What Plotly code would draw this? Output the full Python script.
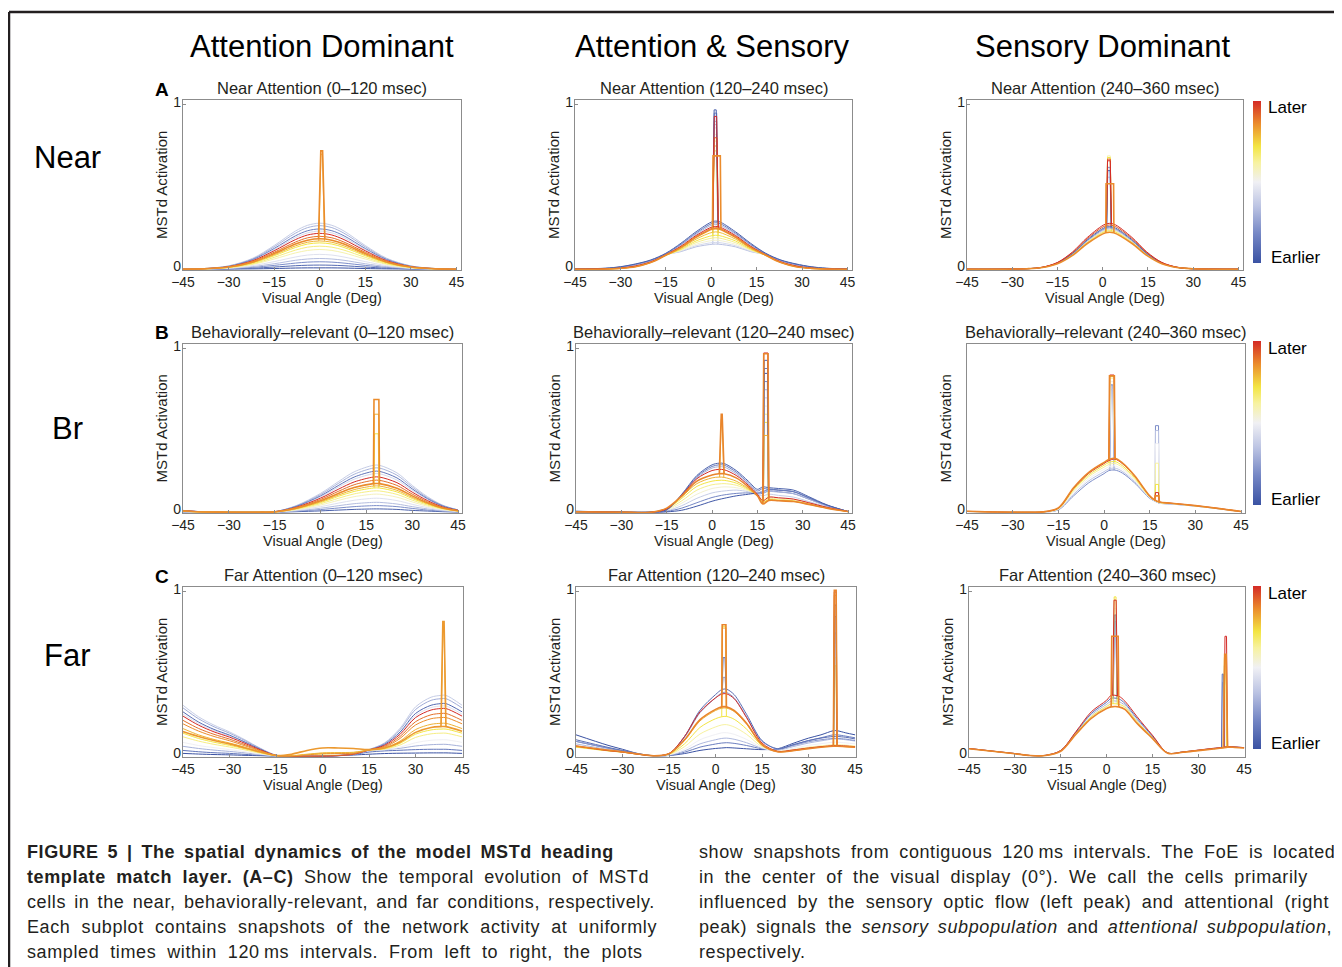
import plotly.graph_objects as go
from plotly.colors import sample_colorscale

# The page body has an 8px margin, so the figure is drawn 8px smaller and all
# reference pixel positions are shifted by that margin.
PAGE_W, PAGE_H = 1342, 967
BODY_MARGIN = 8
W, H = PAGE_W - BODY_MARGIN, PAGE_H - BODY_MARGIN
FONT = "Liberation Sans"
INK = "#231f20"

# ---------------- colour scale (Earlier -> Later) ----------------
COLORSCALE = [[0.0, "#3a52a3"], [0.18, "#7587c5"], [0.35, "#bcc4e3"], [0.5, "#f0f0f4"],
              [0.62, "#f7f2a0"], [0.72, "#f3e543"], [0.86, "#eb8c2c"], [1.0, "#d42a26"]]

# ---------------- text ----------------
COLUMN_HEADERS = ["Attention Dominant", "Attention & Sensory", "Sensory Dominant"]
ROW_LABELS = ["Near", "Br", "Far"]
PANEL_LETTERS = ["A", "B", "C"]
PANEL_TITLES = [
    ["Near Attention (0–120 msec)", "Near Attention (120–240 msec)", "Near Attention (240–360 msec)"],
    ["Behaviorally–relevant (0–120 msec)", "Behaviorally–relevant (120–240 msec)", "Behaviorally–relevant (240–360 msec)"],
    ["Far Attention (0–120 msec)", "Far Attention (120–240 msec)", "Far Attention (240–360 msec)"],
]
X_TICKS = [-45, -30, -15, 0, 15, 30, 45]
X_TITLE = "Visual Angle (Deg)"
Y_TITLE = "MSTd Activation"
# caption: list of (text, style) segments per line; style "b" bold, "i" italic, "" regular
CAPTION_LEFT = [
    [("FIGURE 5 | The spatial dynamics of the model MSTd heading", "b")],
    [("template match layer. (A–C)", "b"), (" Show the temporal evolution of MSTd", "")],
    [("cells in the near, behaviorally-relevant, and far conditions, respectively.", "")],
    [("Each subplot contains snapshots of the network activity at uniformly", "")],
    [("sampled times within 120\u2009ms intervals. From left to right, the plots", "")],
]
CAPTION_RIGHT = [
    [("show snapshots from contiguous 120\u2009ms intervals. The FoE is located", "")],
    [("in the center of the visual display (0°). We call the cells primarily", "")],
    [("influenced by the sensory optic flow (left peak) and attentional (right", "")],
    [("peak) signals the ", ""), ("sensory subpopulation", "i"), (" and ", ""),
     ("attentional subpopulation", "i"), (",", "")],
    [("respectively.", "")],
]

# ---------------- panel data (curves listed in drawing order) ----------------
# spikes: (x_left, x_right, base_left, base_right, top, plateau_width)

# Near Attention 0-120
P1_X = [-45, -38, -30, -22, -15, -8, -4, 0, 4, 8, 15, 22, 30, 38, 45]
P1_T = [0.0, 0.08, 0.2, 0.33, 0.45, 0.6, 0.66, 0.72, 0.38, 0.3, 0.42, 0.15, 1.0, 0.9, 0.8, 0.86]
P1_Y = [
    [0.0, 0.0, 0.001, 0.002, 0.004, 0.007, 0.008, 0.008, 0.008, 0.007, 0.004, 0.002, 0.001, 0.0, 0.0],
    [0.0, 0.0, 0.002, 0.006, 0.013, 0.021, 0.024, 0.025, 0.024, 0.021, 0.013, 0.006, 0.002, 0.0, 0.0],
    [0.0, 0.001, 0.003, 0.011, 0.023, 0.037, 0.043, 0.045, 0.043, 0.037, 0.023, 0.011, 0.003, 0.001, 0.0],
    [0.0, 0.001, 0.005, 0.016, 0.033, 0.054, 0.062, 0.065, 0.062, 0.054, 0.033, 0.016, 0.005, 0.001, 0.0],
    [0.0, 0.001, 0.006, 0.022, 0.046, 0.074, 0.086, 0.09, 0.086, 0.074, 0.046, 0.022, 0.006, 0.001, 0.0],
    [0.0, 0.002, 0.008, 0.029, 0.062, 0.099, 0.114, 0.12, 0.114, 0.099, 0.062, 0.029, 0.008, 0.002, 0.0],
    [0.0, 0.002, 0.01, 0.033, 0.072, 0.116, 0.134, 0.14, 0.134, 0.116, 0.072, 0.033, 0.01, 0.002, 0.0],
    [0.0, 0.002, 0.011, 0.038, 0.082, 0.132, 0.153, 0.16, 0.153, 0.132, 0.082, 0.038, 0.011, 0.002, 0.0],
    [0.001, 0.004, 0.02, 0.067, 0.144, 0.232, 0.267, 0.28, 0.267, 0.232, 0.144, 0.067, 0.02, 0.004, 0.001],
    [0.001, 0.004, 0.019, 0.063, 0.136, 0.219, 0.253, 0.265, 0.253, 0.219, 0.136, 0.063, 0.019, 0.004, 0.001],
    [0.0, 0.003, 0.016, 0.055, 0.119, 0.192, 0.221, 0.232, 0.221, 0.192, 0.119, 0.055, 0.016, 0.003, 0.0],
    [0.0, 0.003, 0.017, 0.059, 0.126, 0.203, 0.234, 0.245, 0.234, 0.203, 0.126, 0.059, 0.017, 0.003, 0.0],
    [0.0, 0.003, 0.015, 0.052, 0.112, 0.18, 0.208, 0.218, 0.208, 0.18, 0.112, 0.052, 0.015, 0.003, 0.0],
    [0.0, 0.003, 0.014, 0.048, 0.103, 0.165, 0.191, 0.2, 0.191, 0.165, 0.103, 0.048, 0.014, 0.003, 0.0],
    [0.0, 0.002, 0.012, 0.041, 0.088, 0.142, 0.164, 0.172, 0.164, 0.142, 0.088, 0.041, 0.012, 0.002, 0.0],
    [0.0, 0.003, 0.013, 0.044, 0.095, 0.153, 0.176, 0.185, 0.176, 0.153, 0.095, 0.044, 0.013, 0.003, 0.0],
]
P1_SPIKES = [[], [], [], [], [], [], [], [], [], [], [], [], [], [],
             [(-0.3, 1.6, 0.172, 0.172, 0.70, 0.5)],
             [(-0.4, 1.7, 0.185, 0.185, 0.72, 0.6)]]

# Near Attention 120-240
P2_X = [-45, -35, -30, -25, -20, -15, -10, -5, 0.5, 2.5, 8, 13, 18, 23, 28, 33, 38, 45]
P2_T = [0.34, 0.42, 0.55, 0.64, 0.72, 0.78, 0.3, 0.15, 0.05, 0.92, 1.0, 0.86]
P2_Y = [
    [0.0, 0.003, 0.01, 0.024, 0.048, 0.088, 0.107, 0.136, 0.152, 0.152, 0.136, 0.107, 0.088, 0.048, 0.024, 0.01, 0.003, 0.0],
    [0.0, 0.003, 0.009, 0.022, 0.046, 0.087, 0.11, 0.143, 0.162, 0.162, 0.143, 0.11, 0.087, 0.046, 0.022, 0.009, 0.003, 0.0],
    [0.0, 0.002, 0.007, 0.019, 0.044, 0.086, 0.114, 0.152, 0.175, 0.175, 0.152, 0.114, 0.086, 0.044, 0.019, 0.007, 0.002, 0.0],
    [0.0, 0.001, 0.006, 0.017, 0.042, 0.085, 0.118, 0.162, 0.19, 0.19, 0.162, 0.118, 0.085, 0.042, 0.017, 0.006, 0.001, 0.0],
    [0.0, 0.001, 0.005, 0.016, 0.041, 0.084, 0.122, 0.172, 0.205, 0.205, 0.172, 0.122, 0.084, 0.041, 0.016, 0.005, 0.001, 0.0],
    [0.0, 0.001, 0.005, 0.015, 0.04, 0.084, 0.127, 0.183, 0.225, 0.225, 0.183, 0.127, 0.084, 0.04, 0.015, 0.005, 0.001, 0.0],
    [0.0, 0.004, 0.012, 0.027, 0.051, 0.091, 0.147, 0.213, 0.27, 0.27, 0.213, 0.147, 0.091, 0.051, 0.027, 0.012, 0.004, 0.0],
    [0.001, 0.005, 0.014, 0.03, 0.054, 0.094, 0.152, 0.22, 0.28, 0.28, 0.22, 0.152, 0.094, 0.054, 0.03, 0.014, 0.005, 0.001],
    [0.001, 0.006, 0.015, 0.032, 0.056, 0.097, 0.158, 0.228, 0.29, 0.29, 0.228, 0.158, 0.097, 0.056, 0.032, 0.015, 0.006, 0.001],
    [0.0, 0.002, 0.006, 0.017, 0.042, 0.086, 0.136, 0.198, 0.25, 0.25, 0.198, 0.136, 0.086, 0.042, 0.017, 0.006, 0.002, 0.0],
    [0.0, 0.002, 0.007, 0.02, 0.045, 0.088, 0.14, 0.205, 0.258, 0.258, 0.205, 0.14, 0.088, 0.045, 0.02, 0.007, 0.002, 0.0],
    [0.0, 0.001, 0.005, 0.015, 0.04, 0.085, 0.133, 0.194, 0.245, 0.245, 0.194, 0.133, 0.085, 0.04, 0.015, 0.005, 0.001, 0.0],
]
P2_SPIKES = [
    [(0.5, 2.2, 0.152, 0.152, 0.88, 0.8)],
    [(0.5, 2.2, 0.162, 0.162, 0.86, 0.8)],
    [(0.5, 2.2, 0.175, 0.175, 0.82, 0.8)],
    [(0.5, 2.2, 0.19, 0.19, 0.78, 0.8)],
    [(0.5, 2.3, 0.205, 0.205, 0.72, 0.9)],
    [(0.5, 2.3, 0.225, 0.225, 0.75, 0.9)],
    [(0.5, 2.3, 0.27, 0.27, 0.90, 0.8)],
    [(0.5, 2.3, 0.28, 0.28, 0.95, 0.8)],
    [(0.4, 2.2, 0.29, 0.29, 0.97, 0.7)],
    [(0.5, 2.4, 0.25, 0.25, 0.80, 0.9)],
    [(0.5, 2.3, 0.258, 0.258, 0.93, 0.8)],
    [(0.4, 3.2, 0.245, 0.245, 0.69, 2.4)],
]

# Near Attention 240-360
P3_X = [-45, -25, -20, -15, -10, -5, 1.0, 3.6, 9.6, 14.6, 19.6, 24.6, 29.6, 45]
P3_T = [0.35, 0.6, 0.72, 0.2, 0.05, 0.93, 1.0, 0.86]
P3_Y = [
    [0, 0.003, 0.011, 0.036, 0.091, 0.17, 0.24, 0.24, 0.17, 0.091, 0.036, 0.011, 0.003, 0],
    [0, 0.003, 0.011, 0.035, 0.089, 0.167, 0.235, 0.235, 0.167, 0.089, 0.035, 0.011, 0.003, 0],
    [0, 0.003, 0.01, 0.035, 0.087, 0.163, 0.23, 0.23, 0.163, 0.087, 0.035, 0.01, 0.003, 0],
    [0, 0.003, 0.011, 0.037, 0.094, 0.176, 0.248, 0.248, 0.176, 0.094, 0.037, 0.011, 0.003, 0],
    [0, 0.003, 0.011, 0.038, 0.097, 0.181, 0.255, 0.255, 0.181, 0.097, 0.038, 0.011, 0.003, 0],
    [0, 0.003, 0.012, 0.04, 0.101, 0.188, 0.265, 0.265, 0.188, 0.101, 0.04, 0.012, 0.003, 0],
    [0, 0.003, 0.012, 0.041, 0.105, 0.195, 0.275, 0.275, 0.195, 0.105, 0.041, 0.012, 0.003, 0],
    [0, 0.003, 0.01, 0.033, 0.084, 0.158, 0.222, 0.222, 0.158, 0.084, 0.033, 0.01, 0.003, 0],
]
P3_SPIKES = [
    [(1.3, 2.8, 0.24, 0.24, 0.56, 0.8)],
    [(1.2, 2.9, 0.235, 0.235, 0.69, 0.9)],
    [(1.2, 2.9, 0.23, 0.23, 0.68, 0.9)],
    [(1.3, 2.8, 0.248, 0.248, 0.62, 0.8)],
    [(1.3, 2.8, 0.255, 0.255, 0.60, 0.8)],
    [(1.2, 2.9, 0.265, 0.265, 0.67, 0.9)],
    [(1.2, 2.9, 0.275, 0.275, 0.66, 0.9)],
    [(1.0, 3.7, 0.222, 0.222, 0.52, 2.5)],
]

# Behaviorally-relevant 0-120
P4_X = [-45, -38, -30, -20, -15, -8, 0, 6, 11, 17.3, 19.3, 25, 30, 35, 40, 45]
P4_T = [0.05, 0.2, 0.33, 0.45, 0.58, 0.65, 0.38, 0.3, 0.42, 0.12, 1.0, 0.9, 0.72, 0.8, 0.86]
P4_Y = [
    [0.001, 0, 0, 0, 0, 0.003, 0.008, 0.013, 0.017, 0.02, 0.02, 0.017, 0.011, 0.007, 0.003, 0.001],
    [0.002, 0, 0, 0, 0, 0.006, 0.016, 0.026, 0.034, 0.04, 0.04, 0.034, 0.023, 0.013, 0.006, 0.002],
    [0.002, 0, 0, 0, 0.001, 0.008, 0.024, 0.04, 0.052, 0.06, 0.06, 0.05, 0.034, 0.02, 0.009, 0.003],
    [0.003, 0.001, 0, 0, 0.001, 0.012, 0.034, 0.056, 0.073, 0.085, 0.085, 0.071, 0.048, 0.028, 0.013, 0.004],
    [0.004, 0.001, 0, 0, 0.001, 0.015, 0.044, 0.073, 0.095, 0.11, 0.11, 0.092, 0.063, 0.036, 0.017, 0.006],
    [0.005, 0.001, 0, 0, 0.001, 0.018, 0.052, 0.086, 0.112, 0.13, 0.13, 0.109, 0.074, 0.043, 0.02, 0.007],
    [0.011, 0.002, 0, 0.001, 0.003, 0.04, 0.115, 0.189, 0.247, 0.287, 0.287, 0.241, 0.164, 0.095, 0.043, 0.014],
    [0.011, 0.002, 0, 0.001, 0.003, 0.038, 0.108, 0.178, 0.232, 0.27, 0.27, 0.227, 0.154, 0.089, 0.041, 0.014],
    [0.009, 0.002, 0, 0, 0.002, 0.033, 0.094, 0.155, 0.202, 0.235, 0.235, 0.197, 0.134, 0.078, 0.035, 0.012],
    [0.01, 0.002, 0, 0, 0.003, 0.035, 0.1, 0.165, 0.215, 0.25, 0.25, 0.21, 0.143, 0.083, 0.038, 0.013],
    [0.009, 0.002, 0, 0, 0.002, 0.03, 0.086, 0.142, 0.185, 0.215, 0.215, 0.181, 0.123, 0.071, 0.032, 0.011],
    [0.008, 0.002, 0, 0, 0.002, 0.027, 0.078, 0.129, 0.168, 0.195, 0.195, 0.164, 0.111, 0.064, 0.029, 0.01],
    [0.006, 0.001, 0, 0, 0.001, 0.021, 0.059, 0.098, 0.127, 0.148, 0.148, 0.124, 0.084, 0.049, 0.022, 0.007],
    [0.006, 0.001, 0, 0, 0.002, 0.022, 0.064, 0.106, 0.138, 0.16, 0.16, 0.134, 0.091, 0.053, 0.024, 0.008],
    [0.007, 0.001, 0, 0, 0.002, 0.025, 0.07, 0.116, 0.151, 0.175, 0.175, 0.147, 0.1, 0.058, 0.026, 0.009],
]
P4_SPIKES = [[], [], [], [], [], [], [], [], [], [], [], [],
             [(17.5, 19.1, 0.148, 0.148, 0.48, 1.2)],
             [(17.4, 19.2, 0.16, 0.16, 0.60, 1.4)],
             [(17.3, 19.3, 0.175, 0.175, 0.69, 1.6)]]

# Behaviorally-relevant 120-240
P5_X = [-45, -30, -20, -15, -10, -5, 0, 2.3, 4.0, 8, 12, 15, 16.8, 18.8, 22, 27, 32, 38, 45]
P5_T = [0.55, 0.64, 0.38, 0.72, 0.18, 0.02, 0.3, 0.15, 0.05, 0.8, 1.0, 0.87]
P5_Y = [
    [0.002, 0.0, 0.0, 0.012, 0.055, 0.11, 0.145, 0.152, 0.155, 0.15, 0.13, 0.1, 0.085, 0.095, 0.088, 0.078, 0.056, 0.029, 0.003],
    [0.002, 0.0, 0.0, 0.016, 0.07, 0.135, 0.168, 0.173, 0.175, 0.165, 0.135, 0.1, 0.075, 0.085, 0.08, 0.072, 0.052, 0.027, 0.003],
    [0.002, 0.0, 0.0, 0.008, 0.04, 0.085, 0.118, 0.126, 0.13, 0.135, 0.125, 0.105, 0.1, 0.11, 0.103, 0.092, 0.065, 0.033, 0.003],
    [0.002, 0.0, 0.0, 0.02, 0.085, 0.158, 0.19, 0.195, 0.195, 0.178, 0.14, 0.1, 0.065, 0.078, 0.074, 0.068, 0.05, 0.026, 0.003],
    [0.002, 0.0, 0.0, 0.005, 0.025, 0.058, 0.09, 0.1, 0.106, 0.115, 0.118, 0.112, 0.115, 0.13, 0.125, 0.113, 0.08, 0.04, 0.004],
    [0.003, 0.0, 0.0, 0.002, 0.012, 0.037, 0.067, 0.078, 0.085, 0.1, 0.11, 0.118, 0.125, 0.14, 0.135, 0.125, 0.088, 0.043, 0.004],
    [0.004, 0.0, 0.0, 0.016, 0.1, 0.21, 0.27, 0.278, 0.276, 0.235, 0.17, 0.12, 0.13, 0.128, 0.123, 0.113, 0.08, 0.038, 0.004],
    [0.005, 0.0, 0.0, 0.015, 0.105, 0.218, 0.28, 0.29, 0.288, 0.245, 0.18, 0.13, 0.145, 0.14, 0.135, 0.125, 0.088, 0.042, 0.004],
    [0.006, 0.0, 0.0, 0.015, 0.11, 0.225, 0.29, 0.3, 0.298, 0.255, 0.19, 0.14, 0.155, 0.15, 0.145, 0.135, 0.095, 0.045, 0.004],
    [0.002, 0.0, 0.0, 0.022, 0.095, 0.175, 0.21, 0.215, 0.213, 0.19, 0.145, 0.1, 0.06, 0.075, 0.072, 0.066, 0.048, 0.025, 0.003],
    [0.003, 0.0, 0.0, 0.02, 0.105, 0.205, 0.255, 0.262, 0.26, 0.225, 0.165, 0.11, 0.07, 0.092, 0.088, 0.08, 0.058, 0.03, 0.004],
    [0.003, 0.0, 0.0, 0.025, 0.1, 0.19, 0.228, 0.235, 0.235, 0.21, 0.155, 0.1, 0.05, 0.072, 0.07, 0.065, 0.048, 0.025, 0.004],
]
P5_SPIKES = [
    [(17.0, 18.6, 0.085, 0.095, 0.65, 1.0)],
    [(17.0, 18.6, 0.075, 0.085, 0.60, 1.0)],
    [(17.0, 18.6, 0.10, 0.11, 0.70, 1.0)],
    [(17.0, 18.6, 0.065, 0.078, 0.55, 1.0)],
    [(17.0, 18.6, 0.115, 0.13, 0.80, 1.0)],
    [(16.9, 18.7, 0.125, 0.14, 0.85, 1.1)],
    [(17.0, 18.6, 0.13, 0.128, 0.75, 1.0)],
    [(16.9, 18.7, 0.145, 0.14, 0.88, 1.1)],
    [(16.9, 18.7, 0.155, 0.15, 0.93, 1.1)],
    [(2.5, 3.9, 0.215, 0.213, 0.57, 0.3), (16.9, 18.7, 0.06, 0.075, 0.47, 1.3)],
    [(16.8, 18.8, 0.07, 0.092, 0.975, 1.4)],
    [(2.4, 4.0, 0.235, 0.235, 0.60, 0.3), (16.8, 18.8, 0.05, 0.072, 0.97, 1.4)],
]

# Behaviorally-relevant 240-360
P6_X = [-45, -35, -25, -20, -15, -10, -5, 0, 1.6, 3.6, 6, 10, 15, 16.6, 18.2, 22, 30, 38, 45]
P6_T = [0.2, 0.35, 0.5, 0.62, 0.72, 1.0, 0.87]
P6_Y = [
    [0.004, 0.001, 0.0, 0.001, 0.014, 0.1, 0.18, 0.236, 0.255, 0.258, 0.24, 0.18, 0.085, 0.068, 0.055, 0.05, 0.037, 0.02, 0.004],
    [0.004, 0.001, 0.0, 0.001, 0.016, 0.11, 0.192, 0.248, 0.265, 0.27, 0.25, 0.187, 0.088, 0.069, 0.056, 0.051, 0.037, 0.02, 0.004],
    [0.004, 0.001, 0.0, 0.001, 0.018, 0.12, 0.205, 0.262, 0.278, 0.283, 0.262, 0.195, 0.09, 0.07, 0.057, 0.052, 0.038, 0.021, 0.004],
    [0.004, 0.001, 0.0, 0.001, 0.02, 0.13, 0.218, 0.276, 0.292, 0.298, 0.274, 0.204, 0.092, 0.072, 0.058, 0.053, 0.038, 0.021, 0.004],
    [0.005, 0.001, 0.0, 0.002, 0.022, 0.138, 0.228, 0.288, 0.305, 0.31, 0.285, 0.212, 0.095, 0.073, 0.06, 0.054, 0.039, 0.021, 0.004],
    [0.005, 0.001, 0.0, 0.002, 0.024, 0.145, 0.238, 0.298, 0.316, 0.325, 0.298, 0.222, 0.098, 0.074, 0.062, 0.055, 0.04, 0.022, 0.004],
    [0.006, 0.001, 0.0, 0.002, 0.026, 0.15, 0.244, 0.305, 0.322, 0.33, 0.302, 0.225, 0.1, 0.075, 0.062, 0.055, 0.04, 0.022, 0.004],
]
P6_SPIKES = [
    [(1.9, 3.3, 0.255, 0.258, 0.78, 0.6), (16.8, 18.0, 0.068, 0.055, 0.53, 1.0)],
    [(1.8, 3.4, 0.265, 0.27, 0.75, 0.8), (16.8, 18.0, 0.069, 0.056, 0.50, 1.0)],
    [(1.7, 3.5, 0.278, 0.283, 0.80, 1.0), (16.7, 18.1, 0.07, 0.057, 0.42, 1.0)],
    [(1.7, 3.5, 0.292, 0.298, 0.82, 1.2), (16.7, 18.1, 0.072, 0.058, 0.30, 1.0)],
    [(1.6, 3.6, 0.305, 0.31, 0.83, 1.4), (16.7, 18.1, 0.073, 0.06, 0.17, 1.0)],
    [(1.6, 3.6, 0.316, 0.325, 0.84, 1.4), (16.7, 18.1, 0.074, 0.062, 0.12, 1.0)],
    [(1.6, 3.6, 0.322, 0.33, 0.835, 1.6), (16.6, 18.2, 0.075, 0.062, 0.10, 1.2)],
]

# Far Attention 0-120
P7_X = [-45, -40, -35, -30, -25, -20, -15, -10, -5, 0, 5, 10, 15, 20, 25, 30, 35, 38.2, 39.8, 45]
P7_T = [0.0, 0.12, 0.3, 0.5, 0.65, 0.72, 0.38, 0.28, 0.45, 0.08, 1.0, 0.9, 0.86, 0.8, 0.84]
P7_Y = [
    [0.017, 0.013, 0.01, 0.008, 0.005, 0.003, 0.001, 0, 0, 0.001, 0.003, 0.007, 0.012, 0.016, 0.018, 0.019, 0.02, 0.02, 0.02, 0.017],
    [0.035, 0.027, 0.021, 0.017, 0.011, 0.005, 0.001, 0, 0, 0.001, 0.004, 0.01, 0.025, 0.032, 0.036, 0.04, 0.042, 0.042, 0.042, 0.035],
    [0.06, 0.047, 0.037, 0.029, 0.02, 0.01, 0.002, 0, 0, 0.002, 0.006, 0.013, 0.033, 0.04, 0.048, 0.062, 0.07, 0.072, 0.072, 0.06],
    [0.084, 0.065, 0.052, 0.04, 0.027, 0.013, 0.002, 0, 0.003, 0.006, 0.01, 0.016, 0.035, 0.04, 0.055, 0.082, 0.097, 0.1, 0.1, 0.084],
    [0.118, 0.092, 0.072, 0.056, 0.038, 0.018, 0.003, 0.001, 0.006, 0.012, 0.015, 0.02, 0.037, 0.043, 0.068, 0.114, 0.136, 0.14, 0.14, 0.118],
    [0.14, 0.108, 0.085, 0.066, 0.045, 0.022, 0.003, 0.002, 0.01, 0.018, 0.02, 0.022, 0.038, 0.046, 0.078, 0.134, 0.16, 0.165, 0.165, 0.14],
    [0.31, 0.24, 0.189, 0.148, 0.1, 0.048, 0.006, 0, 0, 0, 0.004, 0.015, 0.041, 0.081, 0.17, 0.3, 0.359, 0.37, 0.37, 0.31],
    [0.294, 0.228, 0.179, 0.14, 0.095, 0.046, 0.006, 0, 0, 0, 0.004, 0.014, 0.04, 0.078, 0.161, 0.284, 0.34, 0.35, 0.35, 0.294],
    [0.256, 0.198, 0.156, 0.122, 0.082, 0.04, 0.005, 0, 0, 0, 0.003, 0.012, 0.038, 0.07, 0.14, 0.247, 0.296, 0.305, 0.305, 0.256],
    [0.27, 0.208, 0.163, 0.128, 0.086, 0.042, 0.005, 0, 0, 0, 0.003, 0.013, 0.038, 0.072, 0.147, 0.26, 0.31, 0.32, 0.32, 0.27],
    [0.244, 0.189, 0.148, 0.116, 0.078, 0.038, 0.005, 0, 0, 0, 0.003, 0.012, 0.038, 0.066, 0.133, 0.235, 0.281, 0.29, 0.29, 0.244],
    [0.218, 0.169, 0.133, 0.104, 0.07, 0.034, 0.004, 0, 0, 0.002, 0.005, 0.013, 0.038, 0.06, 0.12, 0.21, 0.252, 0.26, 0.26, 0.218],
    [0.197, 0.153, 0.12, 0.094, 0.063, 0.031, 0.004, 0.002, 0.008, 0.015, 0.016, 0.018, 0.038, 0.055, 0.108, 0.19, 0.228, 0.235, 0.235, 0.197],
    [0.168, 0.13, 0.102, 0.08, 0.054, 0.026, 0.004, 0.003, 0.012, 0.02, 0.022, 0.024, 0.038, 0.05, 0.092, 0.162, 0.194, 0.2, 0.2, 0.168],
    [0.15, 0.12, 0.095, 0.075, 0.05, 0.025, 0.004, 0.012, 0.035, 0.05, 0.05, 0.047, 0.04, 0.05, 0.085, 0.145, 0.175, 0.18, 0.18, 0.152],
]
P7_SPIKES = [[], [], [], [], [], [], [], [], [], [], [], [], [],
             [(38.3, 39.7, 0.2, 0.2, 0.78, 0.4)],
             [(38.2, 39.8, 0.18, 0.18, 0.82, 0.4)]]

# Far Attention 120-240
P8_X = [-45, -35, -30, -25, -20, -15, -10, -5, 0, 2.0, 3.5, 6, 10, 15, 20, 25, 30, 34, 38.0, 39.2, 42, 45]
P8_T = [0.0, 0.15, 0.32, 0.5, 0.62, 0.72, 0.22, 0.1, 0.8, 1.0, 0.87]
P8_Y = [
    [0.13, 0.068, 0.042, 0.016, 0.003, 0.004, 0.016, 0.035, 0.047, 0.05, 0.052, 0.05, 0.045, 0.04, 0.045, 0.078, 0.11, 0.13, 0.155, 0.155, 0.142, 0.13],
    [0.09, 0.05, 0.032, 0.013, 0.003, 0.005, 0.024, 0.055, 0.074, 0.08, 0.082, 0.078, 0.065, 0.045, 0.04, 0.068, 0.095, 0.112, 0.13, 0.13, 0.122, 0.112],
    [0.075, 0.042, 0.028, 0.012, 0.003, 0.006, 0.032, 0.075, 0.1, 0.108, 0.11, 0.103, 0.082, 0.048, 0.036, 0.058, 0.08, 0.093, 0.105, 0.105, 0.1, 0.092],
    [0.065, 0.037, 0.026, 0.012, 0.003, 0.008, 0.042, 0.1, 0.132, 0.142, 0.143, 0.133, 0.102, 0.052, 0.032, 0.048, 0.066, 0.076, 0.085, 0.085, 0.081, 0.075],
    [0.058, 0.034, 0.024, 0.012, 0.003, 0.01, 0.058, 0.135, 0.178, 0.19, 0.192, 0.178, 0.133, 0.058, 0.03, 0.04, 0.055, 0.063, 0.07, 0.07, 0.067, 0.062],
    [0.055, 0.033, 0.024, 0.012, 0.003, 0.012, 0.075, 0.175, 0.228, 0.24, 0.242, 0.225, 0.165, 0.065, 0.028, 0.035, 0.048, 0.056, 0.062, 0.062, 0.06, 0.055],
    [0.09, 0.05, 0.032, 0.014, 0.003, 0.015, 0.115, 0.265, 0.355, 0.385, 0.388, 0.355, 0.24, 0.09, 0.045, 0.065, 0.088, 0.1, 0.108, 0.108, 0.104, 0.095],
    [0.1, 0.055, 0.035, 0.015, 0.003, 0.015, 0.12, 0.28, 0.375, 0.405, 0.408, 0.375, 0.255, 0.095, 0.045, 0.07, 0.095, 0.11, 0.12, 0.12, 0.115, 0.105],
    [0.058, 0.034, 0.025, 0.012, 0.003, 0.014, 0.095, 0.215, 0.278, 0.292, 0.293, 0.272, 0.195, 0.068, 0.027, 0.034, 0.047, 0.055, 0.06, 0.06, 0.058, 0.054],
    [0.062, 0.035, 0.025, 0.012, 0.003, 0.016, 0.12, 0.27, 0.355, 0.378, 0.38, 0.35, 0.235, 0.08, 0.03, 0.038, 0.05, 0.058, 0.064, 0.064, 0.062, 0.058],
    [0.062, 0.038, 0.027, 0.013, 0.003, 0.015, 0.1, 0.222, 0.285, 0.3, 0.3, 0.278, 0.2, 0.07, 0.027, 0.033, 0.046, 0.054, 0.06, 0.06, 0.058, 0.055],
]
P8_SPIKES = [
    [],
    [],
    [(38.1, 39.1, 0.105, 0.105, 0.75, 0.5)],
    [(38.1, 39.1, 0.085, 0.085, 0.68, 0.5)],
    [(38.1, 39.1, 0.07, 0.07, 0.60, 0.5)],
    [(2.0, 3.5, 0.24, 0.242, 0.79, 1.1), (38.1, 39.1, 0.062, 0.062, 0.55, 0.5)],
    [(2.1, 3.4, 0.385, 0.388, 0.48, 0.6), (38.1, 39.1, 0.108, 0.108, 0.85, 0.5)],
    [(2.1, 3.4, 0.405, 0.408, 0.60, 0.6), (38.1, 39.1, 0.12, 0.12, 0.92, 0.5)],
    [(2.0, 3.5, 0.292, 0.293, 0.78, 1.1), (38.0, 39.2, 0.06, 0.06, 0.98, 0.6)],
    [(38.0, 39.2, 0.064, 0.064, 1.0, 0.6)],
    [(2.0, 3.5, 0.3, 0.3, 0.80, 1.2), (38.0, 39.2, 0.06, 0.06, 1.01, 0.6)],
]

# Far Attention 240-360
P9_X = [-45, -35, -30, -25, -20, -15, -10, -5, 0, 1.5, 4.0, 6, 10, 15, 20, 25, 30, 35, 37.8, 39.6, 42, 45]
P9_T = [0.3, 0.5, 0.1, 0.72, 1.0, 0.87]
P9_Y = [
    [0.046, 0.026, 0.016, 0.004, 0.005, 0.033, 0.142, 0.25, 0.315, 0.335, 0.332, 0.31, 0.22, 0.118, 0.019, 0.025, 0.036, 0.046, 0.052, 0.057, 0.055, 0.051],
    [0.046, 0.025, 0.015, 0.004, 0.004, 0.032, 0.14, 0.245, 0.308, 0.326, 0.324, 0.304, 0.215, 0.115, 0.019, 0.025, 0.035, 0.045, 0.051, 0.056, 0.054, 0.051],
    [0.047, 0.026, 0.016, 0.004, 0.005, 0.034, 0.146, 0.26, 0.328, 0.352, 0.349, 0.322, 0.23, 0.123, 0.02, 0.026, 0.036, 0.047, 0.052, 0.057, 0.056, 0.052],
    [0.046, 0.025, 0.015, 0.004, 0.004, 0.031, 0.138, 0.24, 0.302, 0.318, 0.316, 0.298, 0.21, 0.113, 0.019, 0.025, 0.035, 0.045, 0.051, 0.056, 0.054, 0.051],
    [0.047, 0.026, 0.016, 0.004, 0.005, 0.035, 0.15, 0.27, 0.34, 0.37, 0.365, 0.335, 0.24, 0.128, 0.02, 0.026, 0.037, 0.048, 0.053, 0.058, 0.056, 0.052],
    [0.045, 0.025, 0.015, 0.004, 0.004, 0.03, 0.134, 0.23, 0.29, 0.3, 0.3, 0.285, 0.2, 0.108, 0.018, 0.024, 0.034, 0.044, 0.05, 0.055, 0.053, 0.05],
]
P9_SPIKES = [
    [(2.2, 3.4, 0.335, 0.332, 0.82, 0.5), (37.7, 38.6, 0.052, 0.055, 0.45, 0.4)],
    [(2.1, 3.5, 0.326, 0.324, 0.90, 0.6), (38.0, 39.0, 0.051, 0.055, 0.55, 0.4)],
    [(2.2, 3.4, 0.352, 0.349, 0.86, 0.5), (37.6, 38.5, 0.052, 0.055, 0.50, 0.4)],
    [(2.1, 3.5, 0.318, 0.316, 0.97, 0.6), (38.2, 39.3, 0.051, 0.056, 0.60, 0.4)],
    [(2.0, 3.6, 0.37, 0.365, 0.95, 0.7), (38.4, 39.6, 0.053, 0.058, 0.73, 0.5)],
    [(1.5, 4.0, 0.3, 0.3, 0.73, 2.1), (38.2, 39.6, 0.05, 0.055, 0.62, 0.5)],
]

PANELS = [
    [(P1_X, P1_T, P1_Y, P1_SPIKES), (P2_X, P2_T, P2_Y, P2_SPIKES), (P3_X, P3_T, P3_Y, P3_SPIKES)],
    [(P4_X, P4_T, P4_Y, P4_SPIKES), (P5_X, P5_T, P5_Y, P5_SPIKES), (P6_X, P6_T, P6_Y, P6_SPIKES)],
    [(P7_X, P7_T, P7_Y, P7_SPIKES), (P8_X, P8_T, P8_Y, P8_SPIKES), (P9_X, P9_T, P9_Y, P9_SPIKES)],
]

# ---------------- geometry (reference page pixels) ----------------
COL_PX = [[(183, 461), (575, 852), (967, 1243)],
          [(183, 462), (576, 852), (967, 1245)],
          [(183, 463), (576, 856), (969, 1245)]]
ROW_PX = [(100, 270), (344, 513), (587, 757)]
X_RANGES = [[-45, 46.5], [-45, 46.3], [-45, 45.3]]
Y_RANGE = [-0.005, 1.03]
CBAR_PX = [(101, 263), (341, 505), (586, 749)]
CAP_FS = 18
CAP_LS = 0.6
CAP_LEFT_END = [612, 648, 655, 655, 640]
CAP_RIGHT_END = [1333, 1306, 1327, 1330, None]

# approximate advance widths (em) of Liberation Sans / Arial, used for justification
_REG = {" ": .278, ".": .278, ",": .278, "(": .333, ")": .333, "-": .333, "|": .26, "°": .4,
        "–": .556, "\u2009": .167}
_BOLD = {" ": .278, ".": .278, ",": .278, "(": .333, ")": .333, "-": .333, "|": .28, "–": .556,
         "\u2009": .167}
for ch, w in zip("abcdefghijklmnopqrstuvwxyz",
                 [.556, .556, .5, .556, .556, .278, .556, .556, .222, .222, .5, .222, .833, .556, .556,
                  .556, .556, .333, .5, .278, .556, .5, .722, .5, .5, .5]):
    _REG[ch] = w
for ch, w in zip("abcdefghijklmnopqrstuvwxyz",
                 [.556, .611, .556, .611, .556, .333, .611, .611, .278, .278, .556, .278, .889, .611, .611,
                  .611, .611, .389, .556, .333, .611, .556, .778, .556, .556, .5]):
    _BOLD[ch] = w
for ch, w in zip("ABCDEFGHIJKLMNOPQRSTUVWXYZ",
                 [.667, .667, .722, .722, .667, .611, .778, .722, .278, .5, .667, .556, .833, .722, .778,
                  .667, .778, .722, .667, .611, .722, .667, .944, .667, .667, .611]):
    _REG[ch] = w
for ch, w in zip("ABCDEFGHIJKLMNOPQRSTUVWXYZ",
                 [.722, .722, .722, .722, .667, .611, .778, .722, .278, .556, .722, .611, .833, .722, .778,
                  .667, .778, .722, .667, .611, .722, .667, .944, .667, .667, .611]):
    _BOLD[ch] = w
for ch in "0123456789":
    _REG[ch] = .556
    _BOLD[ch] = .556


def text_width(segments, fs, ls):
    total = 0.0
    for txt, st in segments:
        table = _BOLD if st == "b" else _REG
        total += sum(table.get(ch, .556) for ch in txt) * fs + ls * len(txt)
    return total


def justified_html(segments, x_start, x_end, fs, ls):
    n_spaces = sum(txt.count(" ") for txt, _ in segments)
    ws = 0.0
    if x_end is not None and n_spaces > 0:
        ws = (x_end - x_start - text_width(segments, fs, ls)) / n_spaces
    parts = []
    for txt, st in segments:
        style = f"word-spacing:{ws:.2f}px;letter-spacing:{ls}px"
        if st == "b":
            style += ";font-weight:bold"
        elif st == "i":
            style += ";font-style:italic"
        parts.append(f'<span style="{style}">{txt}</span>')
    return "".join(parts)


def fx(px):
    return (px - BODY_MARGIN) / W


def fy(py):
    return 1 - (py - BODY_MARGIN) / H


fig = go.Figure()
layout = dict(
    width=W, height=H, margin=dict(l=0, r=0, t=0, b=0, pad=0, autoexpand=False),
    paper_bgcolor="white", plot_bgcolor="white", showlegend=False,
    font=dict(family=FONT, color=INK),
)
annotations = []
shapes = []

for r in range(3):
    for c in range(3):
        k = r * 3 + c + 1
        xa = "x" if k == 1 else f"x{k}"
        ya = "y" if k == 1 else f"y{k}"
        xkey = "xaxis" if k == 1 else f"xaxis{k}"
        ykey = "yaxis" if k == 1 else f"yaxis{k}"
        x0, x1 = COL_PX[r][c]
        y0, y1 = ROW_PX[r]
        axis_common = dict(showgrid=False, zeroline=False, showline=True, mirror=True,
                           linecolor="#8c8c8c", linewidth=1.3, ticks="inside", ticklen=3,
                           tickcolor="#8c8c8c", tickfont=dict(size=14, color=INK, family=FONT),
                           automargin=False)
        layout[xkey] = dict(domain=[fx(x0), fx(x1)], range=X_RANGES[r], anchor=ya,
                            tickvals=X_TICKS, ticklabelstandoff=-1, **axis_common)
        yt = [0] if (r == 1 and c == 2) else [0, 1]
        layout[ykey] = dict(domain=[fy(y1), fy(y0)], range=Y_RANGE, anchor=xa,
                            tickvals=yt, ticklabelstandoff=-2, ticklabelshift=-3, **axis_common)

        xs, ts, ys_list, spikes = PANELS[r][c]
        n = len(ys_list)
        for i, (t, ys, sp) in enumerate(zip(ts, ys_list, spikes)):
            color = sample_colorscale(COLORSCALE, [t])[0]
            lw = 1.6 if i == n - 1 else 1.0
            fig.add_trace(go.Scatter(x=xs, y=ys, mode="lines", xaxis=xa, yaxis=ya,
                                     line=dict(color=color, width=lw, shape="spline", smoothing=0.9),
                                     hoverinfo="skip", showlegend=False))
            for (xl, xr, bl, br, top, pw) in sp:
                xc = (xl + xr) / 2
                fig.add_trace(go.Scatter(x=[xl, xc - pw / 2, xc + pw / 2, xr], y=[bl, top, top, br],
                                         mode="lines", xaxis=xa, yaxis=ya,
                                         line=dict(color=color, width=lw),
                                         hoverinfo="skip", showlegend=False))

        cx = (x0 + x1) / 2
        annotations.append(dict(text=PANEL_TITLES[r][c], x=fx(cx), y=fy(y0 - 12), xref="paper", yref="paper",
                                showarrow=False, xanchor="center", yanchor="middle",
                                font=dict(size=16.5, family=FONT, color=INK)))
        annotations.append(dict(text=X_TITLE, x=fx(cx), y=fy(y1 + 28), xref="paper", yref="paper",
                                showarrow=False, xanchor="center", yanchor="middle",
                                font=dict(size=14.5, family=FONT, color=INK)))
        annotations.append(dict(text=Y_TITLE, x=fx(x0 - 22), y=fy((y0 + y1) / 2), xref="paper", yref="paper",
                                showarrow=False, xanchor="center", yanchor="middle", textangle=-90,
                                font=dict(size=15, family=FONT, color=INK)))

    y0, y1 = ROW_PX[r]
    annotations.append(dict(text=ROW_LABELS[r], x=fx(67), y=fy([157, 428, 655][r]), xref="paper", yref="paper",
                            showarrow=False, xanchor="center", yanchor="middle",
                            font=dict(size=31, family=FONT, color="black")))
    annotations.append(dict(text=f"<b>{PANEL_LETTERS[r]}</b>", x=fx(162), y=fy(y0 - 11), xref="paper", yref="paper",
                            showarrow=False, xanchor="center", yanchor="middle",
                            font=dict(size=19, family=FONT, color="black")))
    cb0, cb1 = CBAR_PX[r]
    fig.add_trace(go.Scatter(
        x=[-100, -100], y=[-5, -5], mode="markers", xaxis=f"x{r*3+3}", yaxis=f"y{r*3+3}",
        marker=dict(color=[0, 1], cmin=0, cmax=1, colorscale=COLORSCALE, showscale=True, size=1,
                    colorbar=dict(x=fx(1253), xanchor="left", y=fy((cb0 + cb1) / 2),
                                  yanchor="middle", len=cb1 - cb0, lenmode="pixels",
                                  thickness=8, thicknessmode="pixels", outlinewidth=0,
                                  showticklabels=False, ticks="", xpad=0, ypad=0)),
        hoverinfo="skip", showlegend=False))
    annotations.append(dict(text="Later", x=fx(1266), y=fy(cb0 + 7), xref="paper", yref="paper",
                            showarrow=False, xanchor="left", yanchor="middle",
                            font=dict(size=17, family=FONT, color="black")))
    annotations.append(dict(text="Earlier", x=fx(1269), y=fy(cb1 - 6), xref="paper", yref="paper",
                            showarrow=False, xanchor="left", yanchor="middle",
                            font=dict(size=17, family=FONT, color="black")))

for c, hdr in enumerate(COLUMN_HEADERS):
    annotations.append(dict(text=hdr, x=fx([322, 712, 1102][c]), y=fy(47), xref="paper", yref="paper",
                            showarrow=False, xanchor="center", yanchor="middle",
                            font=dict(size=31, family=FONT, color="black")))

for i, segs in enumerate(CAPTION_LEFT):
    annotations.append(dict(text=justified_html(segs, 25, CAP_LEFT_END[i], CAP_FS, CAP_LS),
                            x=fx(25), y=fy(852 + 25 * i), xref="paper", yref="paper",
                            showarrow=False, xanchor="left", yanchor="middle", align="left",
                            font=dict(size=CAP_FS, family=FONT, color=INK)))
for i, segs in enumerate(CAPTION_RIGHT):
    annotations.append(dict(text=justified_html(segs, 697, CAP_RIGHT_END[i], CAP_FS, CAP_LS),
                            x=fx(697), y=fy(852 + 25 * i), xref="paper", yref="paper",
                            showarrow=False, xanchor="left", yanchor="middle", align="left",
                            font=dict(size=CAP_FS, family=FONT, color=INK)))

shapes.append(dict(type="line", xref="paper", yref="paper", x0=fx(9), x1=1.0, y0=fy(12), y1=fy(12),
                   line=dict(color=INK, width=2.5)))
shapes.append(dict(type="line", xref="paper", yref="paper", x0=fx(9), x1=fx(9), y0=fy(12), y1=0.0,
                   line=dict(color=INK, width=2.5)))

layout["annotations"] = annotations
layout["shapes"] = shapes
fig.update_layout(**layout)
fig.write_html("out.html")
